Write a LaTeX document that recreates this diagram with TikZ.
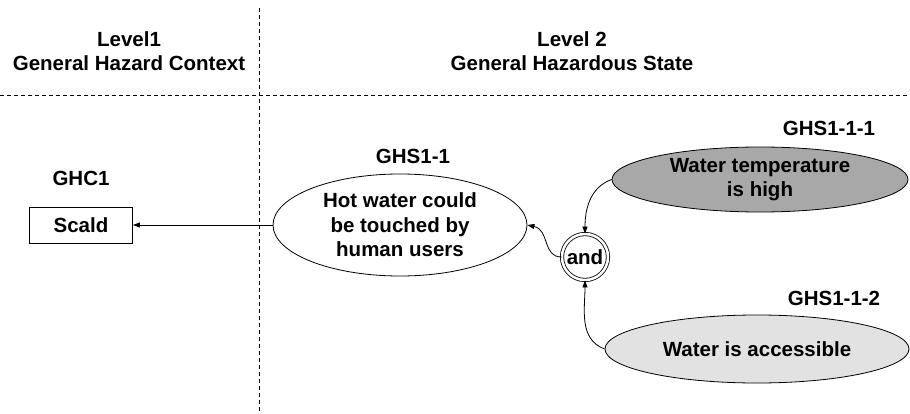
\documentclass[tikz,border=0pt]{standalone}
\usepackage{fontspec}
\setmainfont{Liberation Sans}
\usetikzlibrary{shapes.geometric,arrows.meta}
\definecolor{darkfill}{HTML}{A8A8A8}
\definecolor{lightfill}{HTML}{E2E2E2}
\tikzset{
  txt/.style={font=\fontsize{20.5}{24.5}\selectfont\bfseries, align=center, inner sep=0pt},
  divider/.style={line width=0.8pt, dash pattern=on 4pt off 3pt},
  arr/.style={line width=0.8pt, -{Triangle[length=7pt,width=5pt]}},
  goalbox/.style={txt, draw, line width=0.8pt, minimum width=103pt, minimum height=36pt},
  stateell/.style={txt, ellipse, draw, line width=0.8pt},
  andnode/.style={txt, circle, draw, line width=0.8pt, double, double distance=2.5pt, minimum size=46pt}
}
\begin{document}
\begin{tikzpicture}[x=1pt, y=-1pt]
  \useasboundingbox (0,0) rectangle (910,414);

  % column dividers
  \coordinate (vtop) at (259,8);
  \coordinate (vbot) at (259,414);
  \coordinate (hl) at (0,95);
  \coordinate (hr) at (910,95);
  \draw[divider] (vtop) -- (vbot);
  \draw[divider] (hl) -- (hr);

  % column headings
  \node[txt] (lv1) at (129,51) {Level1\\General Hazard Context};
  \node[txt] (lv2) at (572,51) {Level 2\\General Hazardous State};

  % level 1
  \node[txt] (ghc1lbl) at (81,178) {GHC1};
  \node[goalbox] (scald) at (81,225) {Scald};

  % level 2
  \node[txt] (ghslbl) at (413,156) {GHS1-1};
  \node[stateell, minimum width=254pt, minimum height=102pt] (ghs) at (400,225)
    {Hot water could\\be touched by\\human users};

  \node[andnode] (and) at (585,257) {and};

  \node[txt] (ghs1lbl) at (829,128) {GHS1-1-1};
  \node[stateell, fill=darkfill, minimum width=296pt, minimum height=65pt] (ghs1) at (760,179.5)
    {Water temperature\\is high};

  \node[txt] (ghs2lbl) at (834,298) {GHS1-1-2};
  \node[stateell, fill=lightfill, minimum width=304pt, minimum height=68pt] (ghs2) at (757,349)
    {Water is accessible};

  % connectors
  \draw[arr] (ghs.west) -- (scald.east);
  \draw[arr] (and.west) .. controls (542,257) and (550,230) .. (ghs.east);
  \draw[arr] (ghs1.west) to[out=200, in=90] (and.north);
  \draw[arr] (ghs2.west) to[out=160, in=-90] (and.south);
\end{tikzpicture}
\end{document}
